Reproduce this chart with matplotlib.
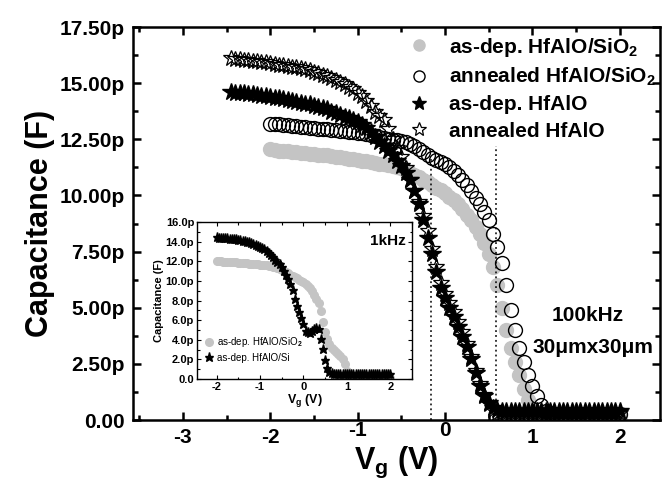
import numpy as np
import matplotlib
matplotlib.use("Agg")
import matplotlib.pyplot as plt
from matplotlib.ticker import MultipleLocator, FuncFormatter
from matplotlib.lines import Line2D
import matplotlib.transforms as mtransforms

plt.rcParams["font.family"] = "Liberation Sans"
plt.rcParams["font.weight"] = "bold"
plt.rcParams["axes.labelweight"] = "bold"
plt.rcParams["mathtext.fontset"] = "custom"
plt.rcParams["mathtext.rm"] = "Liberation Sans:bold"
plt.rcParams["mathtext.bf"] = "Liberation Sans:bold"
plt.rcParams["mathtext.default"] = "bf"

# ---- main plot data (100 kHz), capacitance in pF ----
# circles: sweep -2.00 V .. 2.00 V in 0.05 V steps, ten values per row
v_circ = np.round(np.arange(-2.0, 2.0001, 0.05), 2)
c_asdep_sio2 = [
    12.05, 12.02, 12.00, 11.98, 11.96, 11.94, 11.92, 11.90, 11.88, 11.86,  # -2.00
    11.84, 11.82, 11.80, 11.78, 11.76, 11.73, 11.70, 11.67, 11.64, 11.61,  # -1.50
    11.58, 11.55, 11.52, 11.49, 11.46, 11.42, 11.38, 11.34, 11.30, 11.25,  # -1.00
    11.20, 11.10, 11.00, 10.90, 10.80, 10.70, 10.60, 10.48, 10.35, 10.22,  # -0.50
    10.10, 9.95, 9.80, 9.60, 9.40, 9.15, 8.90, 8.60, 8.30, 7.90,  # 0.00
    7.40, 6.80, 6.00, 5.00, 4.00, 3.20, 2.60, 2.00, 1.40, 0.90,  # 0.50
    0.55, 0.32, 0.22, 0.20, 0.20, 0.20, 0.20, 0.20, 0.20, 0.20,  # 1.00
    0.20, 0.20, 0.20, 0.20, 0.20, 0.20, 0.20, 0.20, 0.20, 0.20,  # 1.50
    0.20,  # 2.00
]
c_ann_sio2 = [
    13.20, 13.18, 13.16, 13.14, 13.12, 13.10, 13.08, 13.06, 13.04, 13.02,  # -2.00
    13.00, 12.98, 12.96, 12.94, 12.92, 12.90, 12.88, 12.86, 12.84, 12.82,  # -1.50
    12.80, 12.76, 12.72, 12.68, 12.64, 12.60, 12.56, 12.52, 12.48, 12.46,  # -1.00
    12.44, 12.38, 12.30, 12.20, 12.08, 11.94, 11.80, 11.66, 11.56, 11.48,  # -0.50
    11.40, 11.25, 11.10, 10.90, 10.70, 10.45, 10.20, 9.90, 9.60, 9.25,  # 0.00
    8.90, 8.30, 7.70, 7.00, 6.00, 4.90, 4.00, 3.20, 2.60, 2.00,  # 0.50
    1.50, 1.05, 0.65, 0.40, 0.30, 0.28, 0.28, 0.28, 0.28, 0.28,  # 1.00
    0.28, 0.28, 0.28, 0.28, 0.28, 0.28, 0.28, 0.28, 0.28, 0.28,  # 1.50
    0.28,  # 2.00
]
# stars: sweep -2.45 V .. 2.00 V in 0.05 V steps, ten values per row
v_star = np.round(np.arange(-2.45, 2.0001, 0.05), 2)
c_asdep_hfalo = [
    14.60, 14.58, 14.56, 14.54, 14.52, 14.50, 14.47, 14.44, 14.41, 14.38,  # -2.45
    14.35, 14.32, 14.29, 14.25, 14.21, 14.17, 14.13, 14.09, 14.05, 14.00,  # -1.95
    13.95, 13.90, 13.83, 13.72, 13.65, 13.58, 13.50, 13.45, 13.38, 13.28,  # -1.45
    13.15, 13.00, 12.82, 12.60, 12.40, 12.20, 12.00, 11.80, 11.55, 11.30,  # -0.95
    11.00, 10.70, 10.20, 9.60, 8.90, 8.10, 7.40, 6.60, 5.90, 5.45,  # -0.45
    5.00, 4.60, 4.15, 3.70, 3.25, 2.70, 2.10, 1.50, 1.05, 0.75,  # 0.05
    0.55, 0.45, 0.40, 0.40, 0.40, 0.40, 0.40, 0.40, 0.40, 0.40,  # 0.55
    0.40, 0.40, 0.40, 0.40, 0.40, 0.40, 0.40, 0.40, 0.40, 0.40,  # 1.05
    0.40, 0.40, 0.40, 0.40, 0.40, 0.40, 0.40, 0.40, 0.40, 0.40,  # 1.55
]
c_ann_hfalo = [
    16.10, 16.08, 16.06, 16.04, 16.02, 16.00, 15.98, 15.95, 15.92, 15.89,  # -2.45
    15.86, 15.83, 15.80, 15.77, 15.74, 15.71, 15.68, 15.63, 15.57, 15.51,  # -1.95
    15.45, 15.38, 15.30, 15.22, 15.14, 15.05, 14.96, 14.85, 14.72, 14.58,  # -1.45
    14.42, 14.22, 13.98, 13.72, 13.55, 13.35, 12.95, 12.50, 12.10, 11.70,  # -0.95
    11.20, 10.70, 10.20, 9.70, 9.10, 8.40, 7.60, 6.80, 6.10, 5.60,  # -0.45
    5.20, 4.80, 4.35, 3.90, 3.40, 2.80, 2.20, 1.60, 1.10, 0.70,  # 0.05
    0.45, 0.30, 0.30, 0.30, 0.30, 0.30, 0.30, 0.30, 0.30, 0.30,  # 0.55
    0.30, 0.30, 0.30, 0.30, 0.30, 0.30, 0.30, 0.30, 0.30, 0.30,  # 1.05
    0.30, 0.30, 0.30, 0.30, 0.30, 0.30, 0.30, 0.30, 0.30, 0.30,  # 1.55
]

# dotted marker lines: gate voltage and top capacitance
vlines_x = [-0.16, 0.58]
vlines_top = [11.7, 12.2]

# ---- inset data (1 kHz): sweep -2.00 V .. 2.00 V in 0.05 V steps ----
v_inset = np.round(np.arange(-2.0, 2.0001, 0.05), 2)
c_inset_sio2 = [
    12.00, 11.99, 11.98, 11.97, 11.96, 11.95, 11.94, 11.92, 11.90, 11.88,  # -2.00
    11.86, 11.84, 11.82, 11.80, 11.78, 11.76, 11.74, 11.72, 11.70, 11.68,  # -1.50
    11.66, 11.63, 11.60, 11.57, 11.54, 11.50, 11.45, 11.40, 11.33, 11.25,  # -1.00
    11.15, 11.05, 10.95, 10.80, 10.65, 10.50, 10.38, 10.26, 10.14, 10.02,  # -0.50
    9.90, 9.70, 9.50, 9.25, 9.00, 8.60, 8.20, 7.70, 6.90, 5.80,  # 0.00
    4.80, 4.10, 3.60, 3.20, 3.00, 2.80, 2.60, 2.35, 2.00, 1.50,  # 0.50
    0.80, 0.30, 0.15, 0.10, 0.10, 0.10, 0.10, 0.10, 0.10, 0.10,  # 1.00
    0.10, 0.10, 0.10, 0.10, 0.10, 0.10, 0.10, 0.10, 0.10, 0.10,  # 1.50
    0.10,  # 2.00
]
c_inset_si = [
    14.45, 14.42, 14.40, 14.37, 14.35, 14.32, 14.30, 14.27, 14.25, 14.22,  # -2.00
    14.20, 14.15, 14.10, 14.05, 14.00, 13.92, 13.85, 13.78, 13.70, 13.60,  # -1.50
    13.50, 13.35, 13.20, 13.05, 12.85, 12.65, 12.40, 12.15, 11.90, 11.70,  # -1.00
    11.40, 11.00, 10.60, 10.20, 9.70, 9.10, 8.20, 7.40, 6.80, 6.20,  # -0.50
    5.60, 4.90, 4.75, 4.70, 4.85, 5.10, 5.20, 5.10, 4.10, 3.10,  # 0.00
    1.90, 1.10, 0.75, 0.60, 0.55, 0.50, 0.50, 0.50, 0.50, 0.50,  # 0.50
    0.50, 0.50, 0.50, 0.50, 0.50, 0.50, 0.50, 0.50, 0.50, 0.50,  # 1.00
    0.50, 0.50, 0.50, 0.50, 0.50, 0.50, 0.50, 0.50, 0.50, 0.50,  # 1.50
    0.50,  # 2.00
]

GRAY = "#c4c4c4"

main_labels = [
    "as-dep. HfAlO/SiO$_2$",
    "annealed HfAlO/SiO$_2$",
    "as-dep. HfAlO",
    "annealed HfAlO",
]
inset_labels = ["as-dep. HfAlO/SiO$_2$", "as-dep. HfAlO/Si"]


def fmt_main(v, pos):
    return "0.00" if abs(v) < 1e-9 else f"{v:.2f}p"


def fmt_inset(v, pos):
    return "0.0" if abs(v) < 1e-9 else f"{v:.1f}p"


def fmt_int(v, pos):
    return f"{v:.0f}".replace("-0", "0")


def style_axes(ax, major_len, minor_len, width, spine_w):
    ax.tick_params(which="both", direction="in", top=True, right=True)
    ax.tick_params(which="major", length=major_len, width=width)
    ax.tick_params(which="minor", length=minor_len, width=width)
    for sp in ax.spines.values():
        sp.set_linewidth(spine_w)


fig = plt.figure(figsize=(6.64, 4.84), dpi=100)
ax = fig.add_axes([0.2003, 0.1322, 0.7937, 0.8120])

ax.plot(v_circ, c_asdep_sio2, "o", ms=10, color=GRAY, mec=GRAY, ls="none")
ax.plot(v_circ, c_ann_sio2, "o", ms=10, mfc="none", mec="black", mew=1.0, ls="none")
ax.plot(v_star, c_asdep_hfalo, "*", ms=13, color="black", ls="none")
ax.plot(v_star, c_ann_hfalo, "*", ms=12, mfc="none", mec="black", mew=0.9, ls="none")

for x, top in zip(vlines_x, vlines_top):
    ax.plot([x, x], [0, top], ls=(0, (1.2, 2.0)), color="black", lw=1.1)

ax.set_xlim(-3.57, 2.46)
ax.set_ylim(0, 17.5)
ax.xaxis.set_major_locator(MultipleLocator(1))
ax.xaxis.set_minor_locator(MultipleLocator(0.5))
ax.yaxis.set_major_locator(MultipleLocator(2.5))
ax.yaxis.set_minor_locator(MultipleLocator(1.25))
ax.yaxis.set_major_formatter(FuncFormatter(fmt_main))
ax.xaxis.set_major_formatter(FuncFormatter(fmt_int))
style_axes(ax, 6, 3.5, 1.8, 1.8)
ax.tick_params(labelsize=15, pad=6)
ax.set_xlabel("V$_\\mathrm{g}$ (V)", fontsize=22, labelpad=-2)
ax.set_ylabel("Capacitance (F)", fontsize=22, labelpad=3)

handles = [
    Line2D([], [], marker="o", ls="none", ms=8, color=GRAY, mec=GRAY),
    Line2D([], [], marker="o", ls="none", ms=8, mfc="none", mec="black"),
    Line2D([], [], marker="*", ls="none", ms=10, color="black"),
    Line2D([], [], marker="*", ls="none", ms=10, mfc="none", mec="black", mew=0.9),
]
ax.legend(handles, main_labels, loc="upper left", bbox_to_anchor=(0.5, 1.01),
          frameon=False, fontsize=15, handlelength=1.0, handletextpad=0.9,
          labelspacing=0.35, borderaxespad=0.2)

ax.text(1.63, 4.65, "100kHz", fontsize=15, ha="center", va="center")
ax.text(1.69, 3.25, "30\u03bcmx30\u03bcm", fontsize=15, ha="center", va="center")

# ---- inset ----
ins = fig.add_axes([0.2967, 0.2169, 0.3238, 0.3244])
ins.plot(v_inset, c_inset_sio2, "o", ms=5.5, color=GRAY, mec=GRAY, ls="none",
         label=inset_labels[0])
ins.plot(v_inset, c_inset_si, "*", ms=6.5, color="black", ls="none",
         label=inset_labels[1])
ins.set_xlim(-2.45, 2.5)
ins.set_ylim(0, 16)
ins.xaxis.set_major_locator(MultipleLocator(1))
ins.xaxis.set_minor_locator(MultipleLocator(0.5))
ins.yaxis.set_major_locator(MultipleLocator(2))
ins.yaxis.set_minor_locator(MultipleLocator(1))
ins.yaxis.set_major_formatter(FuncFormatter(fmt_inset))
ins.xaxis.set_major_formatter(FuncFormatter(fmt_int))
style_axes(ins, 3, 1.8, 0.8, 1.0)
ins.tick_params(labelsize=8, pad=2)
ins.set_xlabel("V$_\\mathrm{g}$ (V)", fontsize=9, labelpad=0)
ins.set_ylabel("Capacitance (F)", fontsize=8, labelpad=1)
ins.text(0.97, 0.88, "1kHz", transform=ins.transAxes, fontsize=11,
         ha="right", va="center")
ins.legend(loc="lower left", bbox_to_anchor=(0.0, 0.06), frameon=False,
           prop={"size": 7, "weight": "normal"}, handlelength=1.0,
           handletextpad=0.4, labelspacing=0.4, borderaxespad=0.3)

# raise the "-1" and "0" tick labels a little, as in the original
fig.canvas.draw()
raise_off = mtransforms.ScaledTranslation(0, 5 / 72, fig.dpi_scale_trans)
for lab in ax.get_xticklabels():
    if lab.get_text() in ("-1", "0"):
        lab.set_transform(lab.get_transform() + raise_off)

fig.savefig("out.png", dpi=100)
